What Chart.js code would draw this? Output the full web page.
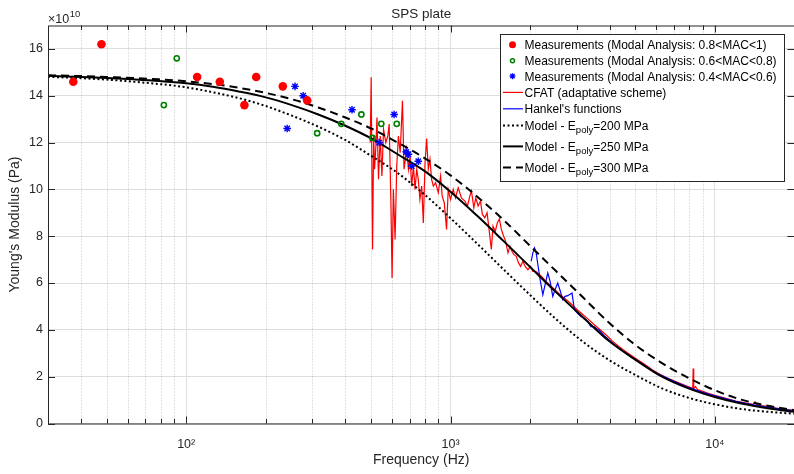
<!DOCTYPE html>
<html>
<head>
<meta charset="utf-8">
<script src="https://cdn.jsdelivr.net/npm/chart.js@4.4.1/dist/chart.umd.min.js"></script>
<style>
  html, body { margin: 0; padding: 0; background: #fff; overflow: hidden; }
  #wrap { width: 794px; height: 474px; overflow: hidden; }
</style>
</head>
<body>
<div id="wrap"><canvas id="chart" width="800" height="474"></canvas></div>
<script>
// ---- data (Young's modulus in units of 1e10 Pa) ----
const xTickValues = [100, 1000, 10000];
const xTickLabels = ['10\u00B2', '10\u00B3', '10\u2074'];
const yTickValues = [0, 2, 4, 6, 8, 10, 12, 14, 16];

// measurements, modal analysis
const mac1Freq = [37.4, 47.8, 110, 134, 166, 184, 232, 287];
const mac1Val  = [14.6, 16.2, 14.8, 14.6, 13.6, 14.8, 14.4, 13.8];
const mac2Freq = [82.3, 92.1, 313, 386, 460, 507, 547, 626];
const mac2Val  = [13.6, 15.6, 12.4, 12.8, 13.2, 12.2, 12.8, 12.8];
const mac3Freq = [241, 258, 277, 424, 537, 612, 679, 693, 713, 755];
const mac3Val  = [12.6, 14.4, 14.0, 13.4, 12.0, 13.2, 11.6, 11.5, 11.0, 11.2];

// CFAT (adaptative scheme)
const cfatFreq = [497, 501, 507, 512, 516, 522, 527, 534, 542, 550, 558, 569, 579, 586, 595, 601, 608, 617, 626, 635,
  645, 658, 667, 683, 693, 703, 713, 724, 734, 745, 755, 766, 778, 789, 801, 812, 824, 836, 848, 861,
  878, 899, 917, 930, 947, 966, 980, 1000, 1024, 1044, 1069, 1100, 1133, 1159, 1183, 1200, 1225, 1246, 1272, 1298,
  1320, 1348, 1375, 1399, 1427, 1448, 1477, 1503, 1530, 1557, 1589, 1616, 1650, 1678, 1708, 1738, 1774, 1809, 1841, 1878,
  1916, 1962, 2008, 2049, 2100, 2200, 2300, 2400, 2500, 2600, 2700, 2800, 2900, 3000, 3150, 3300, 3500, 3700, 3900, 4100,
  4300, 4500, 4800, 5100, 5300, 5500, 5800, 6100, 6500, 7000, 7500, 8000, 8250, 8280, 8320, 8450, 8600, 9000, 9500, 10000,
  11000, 12000, 13000, 14000, 14200, 14400, 15000, 16000, 17000, 18000, 20000];
const cfatVal = [12.0, 14.79, 7.43, 12.28, 10.86, 11.86, 13.07, 10.43, 12.28, 10.57, 12.57, 12.0, 12.28, 12.79, 9.43, 6.21, 10.0, 7.86, 11.0, 12.28,
  11.57, 13.79, 10.86, 11.71, 10.86, 11.43, 10.14, 11.0, 10.0, 10.86, 10.43, 9.57, 10.14, 8.57, 11.14, 12.17, 10.86, 11.29, 10.43, 10.14,
  10.29, 9.86, 10.57, 9.71, 9.43, 8.29, 10.0, 9.57, 10.0, 9.64, 10.07, 9.64, 9.5, 9.29, 9.71, 9.93, 9.21, 9.64, 9.29, 9.5,
  8.93, 8.79, 9.0, 8.29, 7.43, 8.43, 8.21, 8.57, 8.74, 8.29, 8.0, 7.79, 7.29, 7.57, 7.36, 7.21, 7.14, 6.86, 6.71, 6.93,
  6.71, 6.57, 6.71, 6.5, 6.5, 6.3, 6.07, 5.87, 5.68, 5.5, 5.35, 5.2, 5.05, 4.88, 4.68, 4.48, 4.22, 3.98, 3.76, 3.52,
  3.32, 3.15, 2.93, 2.72, 2.6, 2.48, 2.3, 2.15, 1.98, 1.82, 1.68, 1.56, 1.5, 2.35, 1.49, 1.58, 1.45, 1.37, 1.28, 1.2,
  1.07, 0.96, 0.88, 0.82, 0.92, 0.81, 0.77, 0.72, 0.66, 0.62, 0.56];

// Hankel's functions
const hankelFreq = [2020, 2049, 2079, 2109, 2140, 2183, 2235, 2280, 2333, 2381, 2437, 2486, 2545, 2604, 2658, 2713, 2776, 2882, 2941, 3027,
  3115, 3207, 3301, 3398, 3497, 3548, 3652, 3815, 4041, 4281, 4536, 4806, 5093, 5397, 6000, 7000, 8000, 9000, 10000, 12000,
  14000, 16000, 20000];
const hankelVal = [6.93, 7.29, 7.5, 7.29, 6.79, 6.14, 5.5, 5.93, 6.43, 6.07, 5.43, 5.71, 6.0, 5.64, 5.29, 5.43, 5.46, 5.57, 4.86, 4.71,
  4.57, 4.5, 4.36, 4.14, 4.14, 4.07, 3.98, 3.75, 3.5, 3.27, 3.05, 2.86, 2.68, 2.5, 2.15, 1.8, 1.53, 1.33, 1.18, 0.95,
  0.8, 0.69, 0.54];

// model curves
const modelFreq = [30, 40, 50, 63, 79, 100, 126, 158, 200, 251, 316, 398, 501, 631, 794,
  1000, 1259, 1585, 1995, 2512, 3162, 3981, 5012, 6310, 7943, 10000, 12589, 15849, 20000];
const model200 = [14.81, 14.75, 14.69, 14.6, 14.5, 14.36, 14.15, 13.9, 13.56, 13.15, 12.68, 12.12, 11.43, 10.7, 9.8,
  8.77, 7.69, 6.59, 5.5, 4.45, 3.5, 2.71, 2.07, 1.5, 1.1, 0.82, 0.62, 0.5, 0.42];
const model250 = [14.85, 14.8, 14.76, 14.7, 14.63, 14.53, 14.38, 14.18, 13.93, 13.6, 13.2, 12.73, 12.18, 11.5, 10.8,
  9.9, 8.88, 7.8, 6.7, 5.6, 4.55, 3.52, 2.72, 2.0, 1.5, 1.13, 0.85, 0.65, 0.5];
const model300 = [14.87, 14.84, 14.8, 14.76, 14.7, 14.62, 14.5, 14.34, 14.12, 13.85, 13.5, 13.08, 12.6, 12.0, 11.35,
  10.6, 9.7, 8.7, 7.6, 6.5, 5.4, 4.3, 3.35, 2.58, 1.95, 1.42, 1.02, 0.76, 0.57];

// ---- style ----
const FONT = "'Liberation Sans', Arial, Helvetica, sans-serif";
const INK = '#262626';
const DOTTED = [2, 2.5];
const DASHED = [8, 5];

const pts = (xs, ys) => xs.map((x, i) => ({ x: x, y: ys[i] }));

function minorTicks(scale) {
  const out = [];
  for (let d = 10; d <= 10000; d *= 10) {
    for (let m = 2; m <= 9; m++) {
      const v = m * d;
      if (v > scale.min && v < scale.max) out.push(v);
    }
  }
  return out;
}

function drawStar(ctx, x, y, r) {
  ctx.beginPath();
  for (let k = 0; k < 4; k++) {
    const ang = k * Math.PI / 4;
    ctx.moveTo(x - Math.cos(ang) * r, y - Math.sin(ang) * r);
    ctx.lineTo(x + Math.cos(ang) * r, y + Math.sin(ang) * r);
  }
  ctx.stroke();
}

// legend rows (text + sample)
const legendRows = [
  { kind: 'dot',    color: '#ff0000', text: 'Measurements (Modal Analysis: 0.8<MAC<1)' },
  { kind: 'ring',   color: '#008000', text: 'Measurements (Modal Analysis: 0.6<MAC<0.8)' },
  { kind: 'star',   color: '#0000ff', text: 'Measurements (Modal Analysis: 0.4<MAC<0.6)' },
  { kind: 'line',   color: '#ff0000', width: 1.2, dash: [], text: 'CFAT (adaptative scheme)' },
  { kind: 'line',   color: '#0000ff', width: 1.2, dash: [], text: "Hankel's functions" },
  { kind: 'line',   color: '#000000', width: 2, dash: DOTTED, text: 'Model - E', sub: 'poly', tail: '=200 MPa' },
  { kind: 'line',   color: '#000000', width: 2, dash: [], text: 'Model - E', sub: 'poly', tail: '=250 MPa' },
  { kind: 'line',   color: '#000000', width: 2, dash: DASHED, text: 'Model - E', sub: 'poly', tail: '=300 MPa' }
];
const legendRowY = [44.7, 60.7, 76.2, 92.4, 108.8, 125.4, 146.4, 167.4];

const matlabAxes = {
  id: 'matlabAxes',
  beforeDatasetsDraw(chart) {
    const { ctx, chartArea: a, scales: { x } } = chart;
    ctx.save();
    ctx.strokeStyle = 'rgba(25,25,25,0.25)';
    ctx.lineWidth = 1;
    ctx.setLineDash([1, 2]);
    minorTicks(x).forEach(v => {
      const px = Math.round(x.getPixelForValue(v)) + 0.5;
      ctx.beginPath(); ctx.moveTo(px, a.top); ctx.lineTo(px, a.bottom); ctx.stroke();
    });
    ctx.restore();
  },
  afterDatasetsDraw(chart) {
    const { ctx, chartArea: a, scales: { x, y } } = chart;
    ctx.save();
    ctx.strokeStyle = INK;
    ctx.lineWidth = 1;
    ctx.strokeRect(a.left + 0.5, a.top + 0.5, a.right - a.left, a.bottom - a.top);
    ctx.beginPath();
    xTickValues.forEach(v => {
      const px = Math.round(x.getPixelForValue(v)) + 0.5;
      ctx.moveTo(px, a.bottom); ctx.lineTo(px, a.bottom - 7);
      ctx.moveTo(px, a.top); ctx.lineTo(px, a.top + 7);
    });
    minorTicks(x).forEach(v => {
      const px = Math.round(x.getPixelForValue(v)) + 0.5;
      ctx.moveTo(px, a.bottom); ctx.lineTo(px, a.bottom - 4.5);
      ctx.moveTo(px, a.top); ctx.lineTo(px, a.top + 4.5);
    });
    yTickValues.forEach(v => {
      const py = Math.round(y.getPixelForValue(v)) + 0.5;
      ctx.moveTo(a.left, py); ctx.lineTo(a.left + 7, py);
      ctx.moveTo(a.right, py); ctx.lineTo(a.right - 7, py);
    });
    ctx.stroke();
    ctx.restore();
  },
  afterDraw(chart) {
    const { ctx, chartArea: a } = chart;
    ctx.save();
    ctx.fillStyle = INK;
    // title
    ctx.font = '13.5px ' + FONT;
    ctx.textAlign = 'center';
    ctx.textBaseline = 'alphabetic';
    ctx.fillText('SPS plate', (a.left + a.right) / 2, 18);
    // exponent label
    ctx.textAlign = 'left';
    ctx.font = '12.5px ' + FONT;
    ctx.fillText('\u00D710', a.left, 22.5);
    const w = ctx.measureText('\u00D710').width;
    ctx.font = '9.5px ' + FONT;
    ctx.fillText('10', a.left + w + 0.5, 16.5);

    // legend box
    const bx = 500.5, by = 34.5, bw = 284, bh = 147;
    ctx.fillStyle = '#ffffff';
    ctx.fillRect(bx, by, bw, bh);
    ctx.strokeStyle = INK;
    ctx.lineWidth = 1;
    ctx.setLineDash([]);
    ctx.strokeRect(bx, by, bw, bh);
    legendRows.forEach((row, i) => {
      const yy = legendRowY[i];
      ctx.save();
      if (row.kind === 'dot') {
        ctx.fillStyle = row.color;
        ctx.beginPath(); ctx.arc(512.5, yy, 3.5, 0, Math.PI * 2); ctx.fill();
      } else if (row.kind === 'ring') {
        ctx.strokeStyle = row.color; ctx.lineWidth = 1.5;
        ctx.beginPath(); ctx.arc(512.5, yy, 2, 0, Math.PI * 2); ctx.stroke();
      } else if (row.kind === 'star') {
        ctx.strokeStyle = row.color; ctx.lineWidth = 1.3;
        drawStar(ctx, 512.5, yy, 3);
      } else {
        ctx.strokeStyle = row.color; ctx.lineWidth = row.width;
        ctx.setLineDash(row.dash);
        ctx.beginPath(); ctx.moveTo(503, yy); ctx.lineTo(523, yy); ctx.stroke();
      }
      ctx.restore();
      ctx.fillStyle = '#000000';
      ctx.font = '12px ' + FONT;
      ctx.textAlign = 'left';
      ctx.textBaseline = 'alphabetic';
      const base = yy + 4.3;
      let tx = 524.5;
      ctx.fillText(row.text, tx, base);
      if (row.sub) {
        tx += ctx.measureText(row.text).width;
        ctx.font = '9.5px ' + FONT;
        ctx.fillText(row.sub, tx, base + 3.2);
        tx += ctx.measureText(row.sub).width;
        ctx.font = '12px ' + FONT;
        ctx.fillText(row.tail, tx, base);
      }
    });
    ctx.restore();
  }
};

const ctx = document.getElementById('chart');
new Chart(ctx, {
  type: 'line',
  data: {
    datasets: [
      { label: 'MAC 0.8-1', data: pts(mac1Freq, mac1Val), showLine: false,
        pointStyle: 'circle', pointRadius: 4.3, pointBackgroundColor: '#ff0000', pointBorderColor: '#ff0000', pointBorderWidth: 0, order: 0 },
      { label: 'MAC 0.6-0.8', data: pts(mac2Freq, mac2Val), showLine: false,
        pointStyle: 'circle', pointRadius: 2.6, pointBackgroundColor: 'rgba(0,0,0,0)', pointBorderColor: '#008000', pointBorderWidth: 1.6, order: 0 },
      { label: 'MAC 0.4-0.6', data: pts(mac3Freq, mac3Val), showLine: false,
        pointStyle: 'star', pointRadius: 3.8, pointBorderColor: '#0000ff', pointBorderWidth: 1.4, order: 0 },
      { label: 'CFAT', data: pts(cfatFreq, cfatVal), borderColor: '#ff0000', borderWidth: 1.2, pointRadius: 0, tension: 0, order: 5 },
      { label: 'Hankel', data: pts(hankelFreq, hankelVal), borderColor: '#0000ff', borderWidth: 1.2, pointRadius: 0, tension: 0, order: 4 },
      { label: 'Model 200', data: pts(modelFreq, model200), borderColor: '#000000', borderWidth: 2, borderDash: DOTTED,
        pointRadius: 0, cubicInterpolationMode: 'monotone', order: 3 },
      { label: 'Model 250', data: pts(modelFreq, model250), borderColor: '#000000', borderWidth: 2,
        pointRadius: 0, cubicInterpolationMode: 'monotone', order: 3 },
      { label: 'Model 300', data: pts(modelFreq, model300), borderColor: '#000000', borderWidth: 2, borderDash: DASHED,
        pointRadius: 0, cubicInterpolationMode: 'monotone', order: 3 }
    ]
  },
  options: {
    responsive: false,
    animation: false,
    events: [],
    devicePixelRatio: 1,
    layout: { padding: { left: 0, top: 25.5, right: 2.3, bottom: 0 } },
    plugins: { legend: { display: false }, tooltip: { enabled: false }, title: { display: false } },
    scales: {
      x: {
        type: 'logarithmic',
        min: 30,
        max: 20000,
        afterBuildTicks: (scale) => { scale.ticks = xTickValues.map(v => ({ value: v })); },
        afterFit: (scale) => { scale.height = 50.5; },
        grid: { color: '#dedede', lineWidth: 1, drawTicks: false },
        border: { display: false },
        ticks: {
          autoSkip: false, maxRotation: 0, padding: 14, color: INK,
          font: { family: FONT, size: 12.5 },
          callback: (v) => { const i = xTickValues.indexOf(v); return i >= 0 ? xTickLabels[i] : ''; }
        },
        title: { display: true, text: 'Frequency (Hz)', color: INK, font: { family: FONT, size: 14 }, padding: { top: 0, bottom: 5 } }
      },
      y: {
        type: 'linear',
        min: 0,
        max: 17,
        afterBuildTicks: (scale) => { scale.ticks = yTickValues.map(v => ({ value: v })); },
        afterFit: (scale) => { scale.width = 48; },
        grid: { color: '#dedede', lineWidth: 1, drawTicks: false },
        border: { display: false },
        ticks: { padding: 5, color: INK, font: { family: FONT, size: 12.5 }, callback: (v) => String(v) },
        title: { display: true, text: "Young's Modulus (Pa)", color: INK, font: { family: FONT, size: 14 }, padding: { top: 7, bottom: 0 } }
      }
    }
  },
  plugins: [matlabAxes]
});
</script>
</body>
</html>
